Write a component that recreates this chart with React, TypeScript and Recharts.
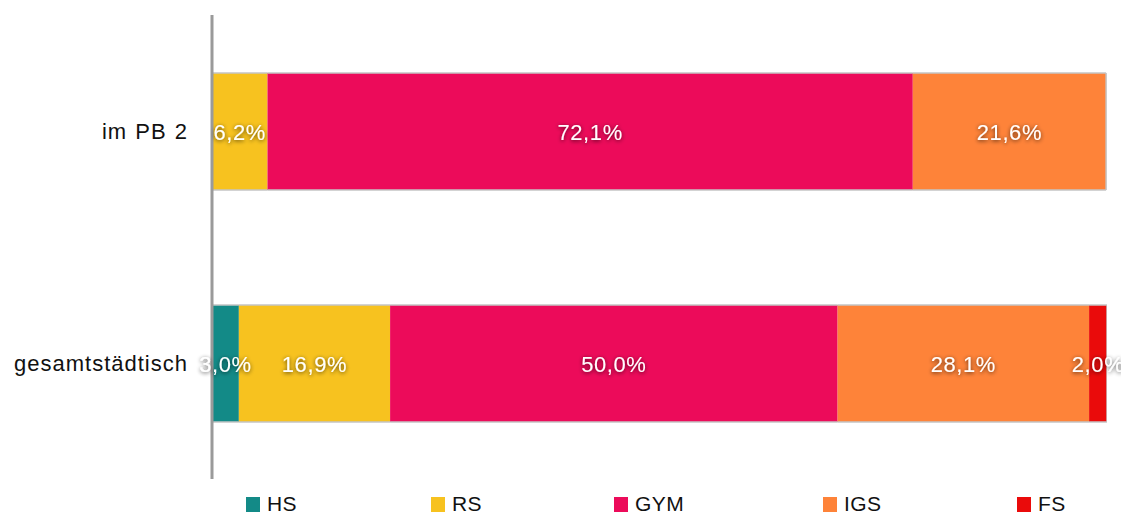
import React from "react";
import { BarChart, Bar, XAxis, YAxis, LabelList, Legend } from "recharts";

const categories = ["im PB 2", "gesamtstädtisch"];
const HS = [0, 3.0];
const RS = [6.2, 16.9];
const GYM = [72.1, 50.0];
const IGS = [21.6, 28.1];
const FS = [0, 2.0];

const seriesKeys = ["HS", "RS", "GYM", "IGS", "FS"];
const colors: Record<string, string> = {
  HS: "#138A87",
  RS: "#F7C21F",
  GYM: "#EC0B5A",
  IGS: "#FE8339",
  FS: "#EA0B0B",
};

const data = categories.map((c, i) => ({
  name: c,
  HS: HS[i],
  RS: RS[i],
  GYM: GYM[i],
  IGS: IGS[i],
  FS: FS[i],
}));

const FONT = "'Liberation Sans', Arial, Helvetica, sans-serif";

const fmt = (v: number) => v.toFixed(1).replace(".", ",") + "%";

const makeShape = (key: string) => (props: any) => {
  const { x, y, width, height, payload } = props;
  if (!width || width <= 0) return <g />;
  const idx = seriesKeys.indexOf(key);
  const isLast = seriesKeys.slice(idx + 1).every((k) => !payload[k]);
  const edge = "#c4c4c4";
  return (
    <g>
      <rect x={x} y={y} width={width} height={height} fill={colors[key]} />
      <line x1={x} x2={x + width} y1={y} y2={y} stroke={edge} strokeWidth={1.5} />
      <line x1={x} x2={x + width} y1={y + height} y2={y + height} stroke={edge} strokeWidth={1.5} />
      {isLast && (
        <line x1={x + width} x2={x + width} y1={y} y2={y + height} stroke={edge} strokeWidth={1.5} />
      )}
    </g>
  );
};

const renderLabel = (props: any) => {
  const { x, y, width, height, value } = props;
  if (!value) return null;
  return (
    <text
      x={x + width / 2}
      y={y + height / 2 + 1}
      textAnchor="middle"
      dominantBaseline="central"
      fill="#ffffff"
      fontFamily={FONT}
      fontSize={22}
      letterSpacing={0.6}
      filter="url(#txtShadow)"
    >
      {fmt(value)}
    </text>
  );
};

const legendWidths = [185, 183, 209, 194, 100];

const renderLegend = () => (
  <div style={{ display: "flex", paddingLeft: 238, paddingTop: 14, width: 1121, boxSizing: "border-box" }}>
    {seriesKeys.map((k, i) => (
      <div
        key={k}
        style={{
          width: legendWidths[i],
          flexShrink: 0,
          display: "flex",
          alignItems: "center",
          fontFamily: FONT,
          fontSize: 21,
          color: "#111",
          letterSpacing: 0.4,
          height: 22,
        }}
      >
        <span
          style={{
            display: "inline-block",
            width: 14,
            height: 15,
            background: colors[k],
            marginRight: 7,
            flexShrink: 0,
          }}
        />
        {k}
      </div>
    ))}
  </div>
);

export default function App() {
  return (
    <div style={{ width: 1121, height: 508 }}>
      <BarChart
        width={1121}
        height={508}
        data={data}
        layout="vertical"
        margin={{ top: 7, right: 22, bottom: 0, left: 0 }}
        barSize={117}
      >
        <defs>
          <filter id="txtShadow" x="-20%" y="-40%" width="140%" height="180%">
            <feGaussianBlur in="SourceAlpha" stdDeviation="2" result="blur" />
            <feOffset in="blur" dx="0" dy="1" result="off" />
            <feComponentTransfer in="off" result="shadow">
              <feFuncA type="linear" slope="0.7" />
            </feComponentTransfer>
            <feMerge>
              <feMergeNode in="shadow" />
              <feMergeNode in="SourceGraphic" />
            </feMerge>
          </filter>
        </defs>
        <XAxis type="number" domain={[0, 100]} hide allowDataOverflow />
        <YAxis
          type="category"
          dataKey="name"
          width={204}
          axisLine={{ stroke: "#9a9a9a", strokeWidth: 3 }}
          tickLine={false}
          tickSize={0}
          tickMargin={24}
          tick={{ fill: "#111", fontSize: 22, fontFamily: FONT, letterSpacing: 1, wordSpacing: 1 } as any}
        />
        <Legend
          verticalAlign="bottom"
          content={renderLegend}
          wrapperStyle={{ left: 0, bottom: 0, height: 37 }}
        />
        {seriesKeys.map((k) => (
          <Bar
            key={k}
            dataKey={k}
            stackId="a"
            fill={colors[k]}
            isAnimationActive={false}
            shape={makeShape(k)}
          >
            <LabelList dataKey={k} content={renderLabel} />
          </Bar>
        ))}
      </BarChart>
    </div>
  );
}
